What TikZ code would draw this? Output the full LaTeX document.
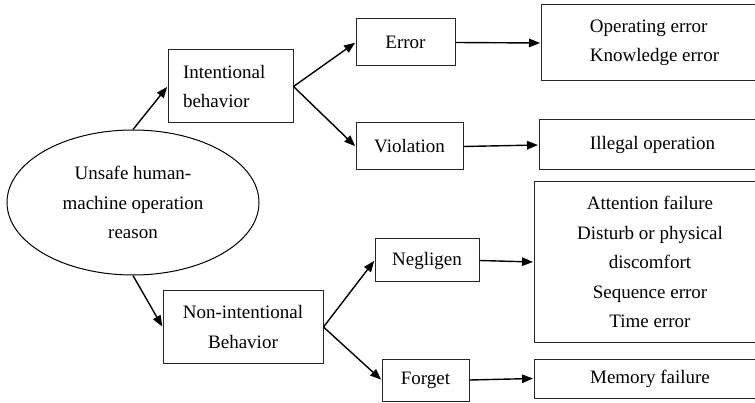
\documentclass[tikz,border=0pt]{standalone}
\usepackage{fontspec}
\setmainfont{Liberation Serif}
\usetikzlibrary{shapes.geometric,arrows.meta}
\begin{document}
\begin{tikzpicture}[x=1pt,y=-1pt,
  every node/.style={font=\fontsize{19}{29.5}\selectfont, inner sep=0pt},
  box/.style={draw=black!85, line width=1pt, rectangle, align=center},
  oval/.style={draw=black, line width=1pt, ellipse, align=center},
  link/.style={line width=1.4pt, -{Triangle[length=11pt,width=8.5pt]}, shorten >=0.5pt}
]
\useasboundingbox (0,0) rectangle (755,403);
\clip (0,0) rectangle (755,403);

% root
\node[oval, minimum width=252pt, minimum height=145pt] (root) at (133,202.5)
  {Unsafe human-\\machine operation\\reason};

% second level
\node[box, minimum width=125pt, minimum height=73pt, text width=95pt, align=left]
  (intent) at (230.5,86.5) {Intentional\\behavior};
\node[box, minimum width=160pt, minimum height=72pt]
  (nonint) at (243,327) {Non-intentional\\Behavior};

% third level
\node[box, minimum width=99pt, minimum height=47pt] (err) at (405.5,42.5) {Error};
\node[box, minimum width=107pt, minimum height=47pt] (viol) at (409.5,146.5) {Violation};
\node[box, minimum width=104pt, minimum height=43pt] (negl) at (427,260.5) {Negligen};
\node[box, minimum width=87pt, minimum height=42pt] (forget) at (425.5,380) {Forget};

% leaf boxes (running off the right edge)
\node[box, minimum width=227pt, minimum height=76pt, align=left]
  (errlist) at (654.5,43) {Operating error\\Knowledge error};
\node[box, minimum width=227pt, minimum height=50pt]
  (viollist) at (652.5,145) {Illegal operation};
\node[box, minimum width=232pt, minimum height=160pt]
  (negllist) at (650,262) {Attention failure\\Disturb or physical\\discomfort\\Sequence error\\Time error};
\node[box, minimum width=232pt, minimum height=39pt]
  (forgetlist) at (650,378.5) {Memory failure};

% connectors
\draw[link] (root.north) -- (intent.west);
\draw[link] (root.south) -- (nonint.west);
\draw[link] (intent.east) -- (err.west);
\draw[link] (intent.east) -- (viol.west);
\draw[link] (nonint.east) -- (negl.west);
\draw[link] (nonint.east) -- (forget.west);
\draw[link] (err.east) -- (errlist.west);
\draw[link] (viol.east) -- (viollist.west);
\draw[link] (negl.east) -- (negllist.west);
\draw[link] (forget.east) -- (forgetlist.west);
\end{tikzpicture}
\end{document}
